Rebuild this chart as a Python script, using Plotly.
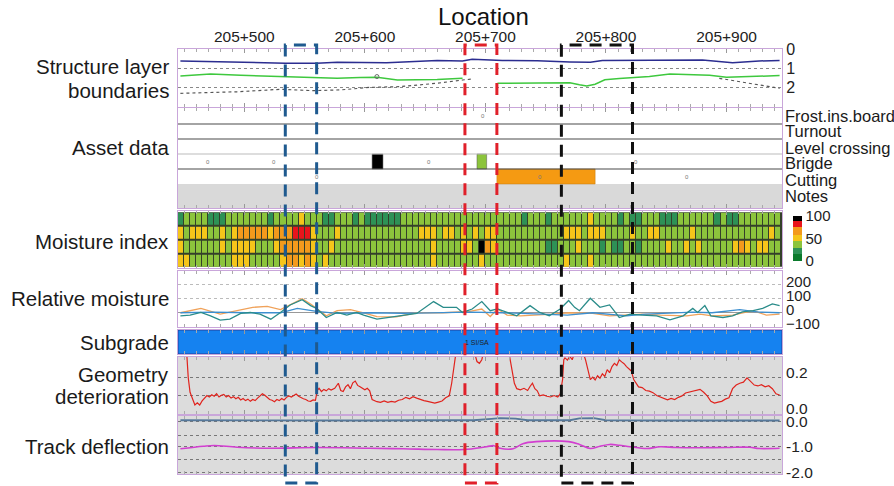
import plotly.graph_objects as go

# ---------------- data ----------------
x_range = [205445, 205946]
location_ticks = [205500, 205600, 205700, 205800, 205900]
location_labels = ["205+500", "205+600", "205+700", "205+800", "205+900"]

# Structure layer boundaries (depth)
layer1_x = [205447, 205466, 205507, 205534, 205560, 205577, 205618, 205660, 205681, 205689, 205714,
            205743, 205770, 205787, 205797, 205845, 205880, 205905, 205917, 205927, 205944]
layer1_depth = [0.63, 0.66, 0.72, 0.75, 0.75, 0.70, 0.72, 0.61, 0.63, 0.54, 0.60,
                0.62, 0.68, 0.70, 0.60, 0.60, 0.58, 0.72, 0.66, 0.63, 0.60]
layer2_x = [205447, 205472, 205497, 205522, 205549, 205563, 205577, 205596, 205610, 205627, 205646, 205660, 205681,
            None, 205710, 205737, 205770, 205778, 205784, 205791, 205799, 205811, 205822, 205836, 205853, 205869,
            205886, 205900, 205917, 205931, 205944]
layer2_depth = [1.42, 1.32, 1.38, 1.42, 1.49, 1.52, 1.54, 1.50, 1.49, 1.63, 1.62, 1.60, 1.54,
                None, 1.80, 1.79, 1.77, 1.88, 1.95, 1.85, 1.62, 1.55, 1.51, 1.45, 1.32, 1.36,
                1.38, 1.49, 1.47, 1.45, 1.40]
layer3_x = [205447, 205494, 205530, 205557, 205580, 205604, 205629, 205660, 205681, 205689,
            None, 205894, 205917, 205944]
layer3_depth = [2.33, 2.25, 2.12, 2.19, 2.15, 2.02, 1.98, 1.80, 1.63, 1.58,
                None, 1.54, 1.80, 2.07]

# Asset data (start, end)
asset_rows = ["Frost.ins.board", "Turnout", "Level crossing", "Brigde", "Cutting", "Notes"]
bridge_start = [205606, 205693]
bridge_end = [205615, 205701]
bridge_colors = ["#000000", "#8cc43c"]
cutting_start = [205709.5]
cutting_end = [205791]

# Moisture index (4 rows x 100 columns of 5 m)
moisture_row1 = [22, 38, 38, 38, 38, 22, 22, 22, 38, 38,
                 38, 38, 38, 38, 38, 22, 38, 38, 38, 38,
                 52, 38, 38, 38, 22, 22, 38, 38, 38, 22,
                 38, 22, 22, 22, 22, 22, 22, 38, 38, 38,
                 38, 38, 38, 38, 38, 38, 38, 38, 38, 38,
                 38, 38, 38, 38, 38, 38, 38, 22, 38, 38,
                 38, 22, 38, 38, 38, 38, 38, 38, 52, 38,
                 38, 38, 38, 22, 38, 22, 22, 38, 38, 38,
                 22, 22, 22, 38, 38, 38, 38, 38, 38, 22,
                 38, 22, 22, 38, 38, 38, 38, 38, 38, 38]
moisture_row2 = [52, 38, 52, 52, 52, 38, 38, 52, 38, 52,
                 64, 67, 67, 64, 67, 52, 64, 67, 67, 82,
                 82, 82, 52, 38, 38, 38, 52, 38, 38, 38,
                 38, 38, 38, 38, 38, 38, 38, 38, 38, 38,
                 52, 55, 52, 38, 52, 52, 38, 52, 38, 52,
                 38, 52, 52, 38, 38, 38, 38, 38, 38, 38,
                 38, 38, 38, 38, 52, 52, 52, 38, 52, 55,
                 52, 38, 38, 38, 38, 52, 38, 38, 52, 52,
                 38, 38, 38, 38, 38, 52, 38, 38, 38, 38,
                 38, 38, 38, 38, 38, 38, 38, 38, 52, 38]
moisture_row3 = [52, 38, 38, 38, 38, 38, 38, 52, 38, 52,
                 52, 52, 52, 38, 38, 38, 52, 62, 64, 67,
                 67, 64, 52, 38, 38, 52, 38, 38, 38, 38,
                 38, 38, 38, 38, 38, 38, 38, 38, 38, 38,
                 38, 38, 52, 38, 38, 38, 38, 52, 52, 38,
                 95, 67, 52, 38, 38, 38, 38, 38, 38, 38,
                 38, 22, 22, 38, 38, 38, 52, 38, 38, 38,
                 22, 38, 22, 22, 38, 38, 22, 38, 38, 38,
                 38, 52, 38, 38, 52, 38, 52, 38, 38, 38,
                 38, 38, 52, 64, 52, 38, 52, 52, 38, 38]
moisture_row4 = [52, 52, 38, 38, 38, 38, 38, 38, 38, 52,
                 52, 52, 38, 38, 38, 38, 38, 52, 64, 62,
                 52, 64, 52, 38, 52, 38, 38, 38, 38, 38,
                 38, 38, 38, 38, 38, 38, 38, 38, 38, 38,
                 38, 38, 52, 38, 38, 38, 38, 38, 38, 38,
                 52, 38, 38, 38, 38, 38, 38, 38, 38, 38,
                 38, 38, 38, 38, 52, 38, 38, 38, 52, 38,
                 38, 38, 38, 38, 38, 38, 38, 38, 38, 38,
                 38, 38, 38, 38, 38, 38, 38, 38, 38, 38,
                 38, 38, 38, 38, 38, 38, 38, 38, 38, 38]
moisture_first_centre = 205447.5
moisture_step = 5

# Relative moisture (location, value)
rel_teal = [(205447, -22), (205455, -17), (205464, 2), (205472, -22), (205480, -53), (205488, -46),
            (205497, -5), (205505, 2), (205513, -10), (205522, -46), (205530, 2), (205538, 56),
            (205548, 93), (205555, 51), (205560, 31), (205568, -34), (205577, 2), (205585, -17),
            (205593, 2), (205599, -17), (205610, -46), (205621, -34), (205632, -22), (205643, -5),
            (205657, 80), (205665, 39), (205676, 39), (205681, 2), (205689, 27), (205697, 80),
            (205704, 15), (205710, 27), (205718, 2), (205726, -22), (205737, 51), (205745, 2),
            (205753, -22), (205762, 27), (205769, 88), (205774, 39), (205778, 15), (205787, 104),
            (205795, 39), (205803, 56), (205811, -34), (205820, -10), (205830, -17), (205842, -22),
            (205853, -51), (205864, -22), (205872, 31), (205876, 2), (205882, 51), (205887, -22),
            (205897, -34), (205905, -22), (205913, 7), (205922, 15), (205930, 31), (205938, 63),
            (205944, 51)]
rel_orange = [(205447, 0), (205464, 31), (205480, -10), (205494, 15), (205507, 39), (205519, 46),
              (205530, 22), (205538, 56), (205548, 100), (205555, 63), (205560, 31), (205568, -22),
              (205577, 15), (205588, 22), (205599, 0), (205610, -27), (205626, -29), (205643, 0),
              (205665, 0), (205687, 10), (205697, 27), (205704, -27), (205710, 27), (205718, -17),
              (205729, -22), (205742, -17), (205756, -10), (205769, 0), (205789, -5), (205803, -22),
              (205817, -17), (205830, -10), (205845, -17), (205867, -22), (205878, -10), (205888, -22),
              (205905, -17), (205922, 15), (205933, -17), (205944, -10)]
rel_blue = [(205447, 0), (205474, 5), (205502, 0), (205530, 0), (205544, 31), (205560, 10),
            (205577, -5), (205604, 0), (205632, -5), (205660, 0), (205687, 5), (205714, 0),
            (205742, -10), (205768, -17), (205789, 0), (205817, -22), (205833, -10), (205872, 5),
            (205888, 0), (205911, 22), (205927, 5), (205944, 0)]

# Subgrade
subgrade_label = "1 SI/SA"
subgrade_start = 205445
subgrade_end = 205946

# Geometry deterioration (location, value)
geometry = [(205452, 0.36), (205453.5, 0.2), (205455, 0.12), (205457, 0.09), (205459, 0.05), (205461, 0.062),
            (205463, 0.05), (205465, 0.072), (205467, 0.09), (205469, 0.102), (205471, 0.094), (205473, 0.106),
            (205475, 0.098), (205477, 0.112), (205479, 0.094), (205481, 0.104), (205483, 0.108), (205485, 0.094),
            (205487, 0.102), (205489, 0.088), (205491, 0.096), (205493, 0.084), (205495, 0.092), (205497, 0.078),
            (205499, 0.086), (205501, 0.074), (205503, 0.082), (205505, 0.07), (205507, 0.08), (205509, 0.074),
            (205511, 0.088), (205513, 0.1), (205515, 0.112), (205517, 0.104), (205519, 0.092), (205521, 0.08),
            (205523, 0.076), (205525, 0.068), (205527, 0.08), (205529, 0.074), (205531, 0.086), (205533, 0.078),
            (205535, 0.092), (205537, 0.1), (205539, 0.094), (205541, 0.102), (205543, 0.11), (205545, 0.098),
            (205547, 0.09), (205549, 0.084), (205551, 0.08), (205553, 0.072), (205555, 0.07), (205557, 0.078),
            (205559, 0.076), (205560.5, 0.13), (205562, 0.142), (205564, 0.124), (205566, 0.136), (205568, 0.128),
            (205570, 0.14), (205572, 0.132), (205575, 0.142), (205578, 0.17), (205580, 0.13), (205582, 0.124),
            (205584, 0.15), (205586, 0.162), (205588, 0.14), (205590, 0.172), (205592, 0.182), (205594, 0.158),
            (205596, 0.15), (205598, 0.14), (205600, 0.134), (205602, 0.142), (205604, 0.128), (205606, 0.08),
            (205608, 0.074), (205610, 0.068), (205613, 0.064), (205616, 0.072), (205619, 0.064), (205622, 0.07),
            (205625, 0.066), (205628, 0.076), (205631, 0.08), (205634, 0.092), (205637, 0.084), (205640, 0.096),
            (205643, 0.088), (205646, 0.08), (205649, 0.074), (205652, 0.07), (205655, 0.064), (205658, 0.06),
            (205661, 0.066), (205664, 0.072), (205667, 0.09), (205670, 0.1), (205672, 0.17), (205674, 0.28),
            (205676, 0.36), (205690, 0.36), (205693, 0.29), (205695, 0.28), (205697, 0.3), (205699, 0.36),
            (205718, 0.36), (205720, 0.32), (205722, 0.245), (205724, 0.17), (205726, 0.14), (205729, 0.134),
            (205732, 0.142), (205735, 0.13), (205737, 0.152), (205739, 0.17), (205741, 0.14), (205743, 0.128),
            (205745, 0.1), (205748, 0.106), (205751, 0.098), (205754, 0.094), (205757, 0.102), (205760, 0.094),
            (205762, 0.11), (205764, 0.19), (205765, 0.3), (205766, 0.31), (205768, 0.298), (205770, 0.318),
            (205772, 0.3), (205775, 0.36), (205780, 0.36), (205783, 0.3), (205785, 0.245), (205787, 0.19),
            (205789, 0.204), (205791, 0.188), (205793, 0.212), (205795, 0.198), (205797, 0.222), (205799, 0.208),
            (205801, 0.245), (205803, 0.228), (205805, 0.262), (205807, 0.28), (205809, 0.268), (205811, 0.3),
            (205813, 0.288), (205815, 0.278), (205817, 0.262), (205819, 0.25), (205821, 0.238), (205823, 0.19),
            (205825, 0.17), (205827, 0.15), (205830, 0.146), (205833, 0.13), (205836, 0.126), (205839, 0.118),
            (205842, 0.102), (205845, 0.094), (205848, 0.09), (205851, 0.078), (205854, 0.086), (205857, 0.08),
            (205860, 0.092), (205863, 0.1), (205866, 0.116), (205869, 0.12), (205872, 0.127), (205875, 0.13),
            (205878, 0.136), (205881, 0.12), (205884, 0.1), (205887, 0.07), (205890, 0.06), (205893, 0.066),
            (205896, 0.07), (205899, 0.082), (205902, 0.09), (205905, 0.14), (205908, 0.16), (205911, 0.17),
            (205914, 0.176), (205917, 0.2), (205920, 0.18), (205923, 0.16), (205926, 0.155), (205929, 0.162),
            (205932, 0.15), (205935, 0.156), (205938, 0.14), (205941, 0.112), (205944, 0.105)]

# Track deflection
defl_top = [(205447, 0.05), (205500, 0.04), (205560, 0.05), (205600, 0.04), (205650, 0.05), (205690, 0.05),
            (205705, 0.1), (205712, 0.13), (205725, 0.11), (205735, 0.05), (205770, 0.05), (205778, 0.12),
            (205790, 0.13), (205800, 0.05), (205850, 0.04), (205900, 0.05), (205944, 0.04)]
defl_main = [(205447, -1.07), (205466, -0.97), (205475, -0.94), (205494, -1.01), (205522, -1.05), (205560, -1.02),
             (205604, -1.05), (205632, -1.07), (205660, -1.1), (205682, -1.1), (205701, -0.99), (205707, -0.95),
             (205712, -1.05), (205723, -1.07), (205731, -0.87), (205742, -0.79), (205769, -0.79), (205778, -0.9),
             (205787, -1.06), (205795, -0.97), (205803, -0.9), (205811, -0.93), (205820, -0.99), (205834, -1.06),
             (205845, -0.99), (205858, -1.02), (205878, -1.03), (205900, -1.02), (205919, -1.01), (205927, -1.06),
             (205944, -1.05)]

# Highlighted sections (start, end, colour)
sections = [(205534, 205560, "#1f5a8f"), (205683, 205709.5, "#e0202a"), (205763, 205822, "#111111")]

# ---------------- layout helpers ----------------
def dom(top_px, bot_px):
    return [(474 - bot_px) / 426, (474 - top_px) / 426]

domains = {1: dom(49, 107), 2: dom(108, 208), 3: dom(211, 268), 4: dom(271, 327),
           5: dom(330, 354), 6: dom(357, 414), 7: dom(416, 474)}

FONT = "Liberation Sans, Arial, sans-serif"
LINEC = "#c9a6da"

fig = go.Figure()

def unz(pairs):
    return [p[0] for p in pairs], [p[1] for p in pairs]

# Panel 1
fig.add_trace(go.Scatter(x=layer1_x, y=layer1_depth, mode="lines", line=dict(color="#2b2d90", width=1.5),
                         xaxis="x", yaxis="y", hoverinfo="skip"))
fig.add_trace(go.Scatter(x=layer2_x, y=layer2_depth, mode="lines", line=dict(color="#3ec83e", width=1.5),
                         xaxis="x", yaxis="y", connectgaps=False, hoverinfo="skip"))
fig.add_trace(go.Scatter(x=layer3_x, y=layer3_depth, mode="lines", line=dict(color="#555555", width=1.2, dash="dot"),
                         xaxis="x", yaxis="y", connectgaps=False, hoverinfo="skip"))
fig.add_trace(go.Scatter(x=[205610], y=[1.45], mode="markers",
                         marker=dict(symbol="circle-open", size=4, color="#666"), xaxis="x", yaxis="y",
                         hoverinfo="skip"))

# Panel 2 : asset rows (y in 0..100, Notes bottom)
row_span = {"Frost.ins.board": (84, 100), "Turnout": (69, 84), "Level crossing": (54, 69),
            "Brigde": (39, 54), "Cutting": (24, 39), "Notes": (0, 24)}
b0, b1 = row_span["Brigde"]
fig.add_trace(go.Bar(orientation="h", y=[(b0 + b1) / 2] * len(bridge_start),
                     x=[e - s for s, e in zip(bridge_start, bridge_end)], base=bridge_start,
                     width=[b1 - b0] * len(bridge_start),
                     marker=dict(color=bridge_colors, line=dict(color="#555", width=0.5)),
                     xaxis="x2", yaxis="y2", hoverinfo="skip"))
c0, c1 = row_span["Cutting"]
fig.add_trace(go.Bar(orientation="h", y=[(c0 + c1) / 2] * len(cutting_start),
                     x=[e - s for s, e in zip(cutting_start, cutting_end)], base=cutting_start,
                     width=[c1 - c0] * len(cutting_start),
                     marker=dict(color="#f59a12", line=dict(color="#c07a10", width=0.5)),
                     xaxis="x2", yaxis="y2", hoverinfo="skip"))

# Panel 3 : moisture heatmap
cs = [[0.0, "#0b7a2c"], [0.15, "#0b7a2c"], [0.15, "#2e9156"], [0.3, "#2e9156"],
      [0.3, "#8cc43c"], [0.45, "#8cc43c"], [0.45, "#f5c51a"], [0.58, "#f5c51a"],
      [0.58, "#f39a1c"], [0.75, "#f39a1c"], [0.75, "#e8141c"], [0.9, "#e8141c"],
      [0.9, "#000000"], [1.0, "#000000"]]
fig.add_trace(go.Heatmap(z=[moisture_row1, moisture_row2, moisture_row3, moisture_row4],
                         x0=moisture_first_centre, dx=moisture_step, y=[0, 1, 2, 3],
                         zmin=0, zmax=100, colorscale=cs, xgap=1, ygap=2,
                         xaxis="x3", yaxis="y3", hoverinfo="skip",
                         colorbar=dict(x=1.018, xanchor="left", y=(474 - 238.5) / 426, yanchor="middle",
                                       len=45 / 426, lenmode="fraction", thickness=9, outlinewidth=0,
                                       tickvals=[0, 50, 100], ticks="", ypad=0, xpad=0,
                                       tickfont=dict(size=15, color="#222", family=FONT))))

# Panel 4 : relative moisture
for pairs, col in [(rel_orange, "#f0a25a"), (rel_blue, "#3d8fd0"), (rel_teal, "#2a8c8a")]:
    xx, yy = unz(pairs)
    fig.add_trace(go.Scatter(x=xx, y=yy, mode="lines", line=dict(color=col, width=1.3),
                             xaxis="x4", yaxis="y4", hoverinfo="skip"))

# Panel 5 : subgrade
fig.add_trace(go.Bar(orientation="h", y=[0.5], x=[subgrade_end - subgrade_start], base=[subgrade_start],
                     width=[1], marker=dict(color="#1582f0", line=dict(color="#22409a", width=1)),
                     xaxis="x5", yaxis="y5", hoverinfo="skip"))

# Panel 6 : geometry
gx, gy = unz(geometry)
fig.add_trace(go.Scatter(x=gx, y=gy, mode="lines", line=dict(color="#e0231d", width=1.2),
                         xaxis="x6", yaxis="y6", hoverinfo="skip"))

# Panel 7 : track deflection
tx, ty = unz(defl_top)
fig.add_trace(go.Scatter(x=tx, y=ty, mode="lines", line=dict(color="#56789a", width=1.8),
                         xaxis="x7", yaxis="y7", hoverinfo="skip"))
mx, my = unz(defl_main)
fig.add_trace(go.Scatter(x=mx, y=my, mode="lines", line=dict(color="#d23fd0", width=1.6, shape="spline"),
                         xaxis="x7", yaxis="y7", hoverinfo="skip"))

# ---------------- axes ----------------
def xa(n):
    d = dict(domain=[0, 1], anchor="y" if n == 1 else f"y{n}", range=x_range, automargin=False,
             showline=True, linecolor=LINEC, linewidth=1, mirror="ticks",
             ticks="inside", ticklen=4, tickcolor="#999", tickmode="array",
             tickvals=location_ticks, ticktext=location_labels,
             showticklabels=(n == 1), side="top" if n == 1 else "bottom",
             showgrid=False, zeroline=False, fixedrange=True,
             minor=dict(ticks="inside", ticklen=3, tickcolor="#aaa", tickmode="linear",
                        tick0=205450, dtick=10, showgrid=False),
             tickfont=dict(size=15.5, color="#222", family=FONT))
    if n != 1:
        d["matches"] = "x"
    return d

def ya(n, **kw):
    d = dict(domain=domains[n], anchor="x" if n == 1 else f"x{n}", side="right", automargin=False,
             showline=True, linecolor=LINEC, linewidth=1, mirror=True, ticks="",
             zeroline=False, showgrid=False, fixedrange=True,
             tickfont=dict(size=16, color="#222", family=FONT))
    d.update(kw)
    return d

layout_axes = {}
for n in range(1, 8):
    layout_axes["xaxis" if n == 1 else f"xaxis{n}"] = xa(n)
layout_axes["yaxis"] = ya(1, range=[3.05, 0], tickvals=[0, 1, 2], showgrid=True,
                          gridcolor="#888", griddash="dot")
layout_axes["yaxis2"] = ya(2, range=[0, 100], showticklabels=False)
layout_axes["yaxis3"] = ya(3, range=[3.55, -0.55], showticklabels=False)
layout_axes["yaxis4"] = ya(4, range=[-102, 299], tickvals=[-100, 0, 100, 200], showgrid=True,
                           gridcolor="#bbbbbb", griddash="dot", zeroline=True, zerolinecolor="#999",
                           zerolinewidth=1, ticklabelshift=-3,
                           tickfont=dict(size=15, color="#222", family=FONT))
layout_axes["yaxis5"] = ya(5, range=[0, 1], showticklabels=False)
layout_axes["yaxis6"] = ya(6, range=[0, 0.315], tickvals=[0, 0.1, 0.2], ticktext=["0.0", "", "0.2"],
                           showgrid=True, gridcolor="#777", griddash="dot", ticklabelshift=-5,
                           tickfont=dict(size=15.5, color="#222", family=FONT))
layout_axes["yaxis7"] = ya(7, range=[-2.06, 0.216], tickvals=[0, -0.53, -1, -1.51, -2],
                           ticktext=["0.0", "", "-1.0", "", "-2.0"], showgrid=True,
                           gridcolor="#777", griddash="dot",
                           tickfont=dict(size=15.5, color="#222", family=FONT))

# ---------------- shapes ----------------
shapes = []
for n in (6, 7):
    shapes.append(dict(type="rect", xref="paper", yref=f"y{n} domain", x0=0, x1=1, y0=0, y1=1,
                       fillcolor="#dcdcdc", line=dict(width=0), layer="below"))
shapes.append(dict(type="rect", xref="paper", yref="y2", x0=0, x1=1, y0=0, y1=24,
                   fillcolor="#d9d9d9", line=dict(width=0), layer="below"))
shapes.append(dict(type="rect", xref="paper", yref="y3 domain", x0=0, x1=1, y0=0.02, y1=0.98,
                   fillcolor="#34402a", line=dict(width=0), layer="below"))
for yv, col in [(84, "#4a4a4a"), (69, "#4a4a4a"), (54, "#bbb"), (39, "#4a4a4a")]:
    shapes.append(dict(type="line", xref="paper", yref="y2", x0=0, x1=1, y0=yv, y1=yv,
                       line=dict(color=col, width=1.2)))
for s, e, col in sections:
    shapes.append(dict(type="rect", xref="x", yref="paper", x0=s, x1=e, y0=-0.021, y1=1.007,
                       line=dict(color=col, width=3, dash="12px,8px"), fillcolor="rgba(0,0,0,0)"))

# ---------------- annotations ----------------
ann = []
ann.append(dict(text="Location", xref="paper", yref="paper", x=(483.5 - 178) / 604, y=(474 - 17) / 426,
                showarrow=False, font=dict(size=24, color="#111", family=FONT), xanchor="center", yanchor="middle"))
left_labels = [("Structure layer", 67), ("boundaries", 90), ("Asset data", 148), ("Moisture index", 241),
               ("Relative moisture", 298), ("Subgrade", 342), ("Geometry", 374), ("deterioration", 396),
               ("Track deflection", 446)]
for t, py in left_labels:
    ann.append(dict(text=t, xref="paper", yref="paper", x=-0.012, y=(474 - py) / 426, showarrow=False,
                    xanchor="right", yanchor="middle", font=dict(size=20.5, color="#1a1a1a", family=FONT)))
right_pos = {"Frost.ins.board": 116, "Turnout": 131, "Level crossing": 148, "Brigde": 163,
             "Cutting": 180, "Notes": 196}
for t in asset_rows:
    ann.append(dict(text=t, xref="paper", yref="paper", x=1.002, y=(474 - right_pos[t]) / 426,
                    showarrow=False, xanchor="left", yanchor="middle",
                    font=dict(size=16.5, color="#1a1a1a", family=FONT)))
for xv, yv in [(205470, 46), (205525, 46), (205560, 31), (205653, 46), (205698, 92), (205745, 31),
               (205825, 46), (205867, 31)]:
    ann.append(dict(text="0", xref="x2", yref="y2", x=xv, y=yv, showarrow=False,
                    font=dict(size=6, color="#777", family=FONT)))
ann.append(dict(text=subgrade_label, xref="x5", yref="y5", x=205693, y=0.5, showarrow=False,
                font=dict(size=7, color="#222", family=FONT)))

fig.update_layout(width=894, height=486, margin=dict(l=178, r=112, t=48, b=12, autoexpand=False),
                  paper_bgcolor="white", plot_bgcolor="rgba(0,0,0,0)", showlegend=False,
                  barmode="overlay", shapes=shapes, annotations=ann, hovermode=False,
                  font=dict(family=FONT), **layout_axes)

fig.write_html("out.html", config={"displayModeBar": False, "staticPlot": True},
               post_script="document.body.style.margin='0px';")
